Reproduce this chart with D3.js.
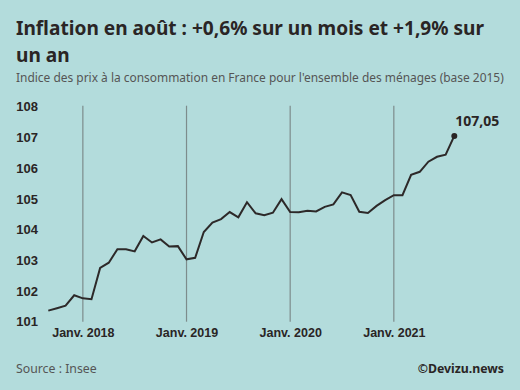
<!DOCTYPE html>
<html>
<head>
<meta charset="utf-8">
<script src="https://cdn.jsdelivr.net/npm/d3@7"></script>
<style>
  html, body { margin: 0; padding: 0; background: #b3dcdc; }
  svg { display: block; }
</style>
</head>
<body>
<div id="chart"></div>
<script>
// months from sept. 2017 to août 2021 (index 0 = sept. 2017)
const months = d3.range(48);
const values = [
  101.36, 101.44, 101.52, 101.86,
  101.76, 101.73, 102.75, 102.92, 103.36, 103.36, 103.29, 103.79, 103.58, 103.68, 103.45, 103.46,
  103.03, 103.08, 103.92, 104.23, 104.34, 104.57, 104.40, 104.89, 104.53, 104.47, 104.55, 104.99,
  104.57, 104.56, 104.61, 104.59, 104.74, 104.82, 105.21, 105.12, 104.58, 104.54, 104.77, 104.96,
  105.12, 105.12, 105.78, 105.88, 106.21, 106.37, 106.44, 107.05
];
const yTicks = [101, 102, 103, 104, 105, 106, 107, 108];
const janIndex = [4, 16, 28, 40];
const janLabels = ["Janv. 2018", "Janv. 2019", "Janv. 2020", "Janv. 2021"];
const lastLabel = "107,05";

const W = 520, H = 390;
const sans = "'Noto Sans', 'Open Sans', sans-serif";

const svg = d3.select("#chart").append("svg")
  .attr("width", W)
  .attr("height", H)
  .style("background", "#b3dcdc");

// title + subtitle
const title = svg.append("text")
  .attr("x", 16)
  .attr("font-family", sans)
  .attr("font-weight", 700)
  .attr("font-size", 19.1)
  .attr("fill", "#2a2525");
title.append("tspan").attr("x", 16).attr("y", 35).text("Inflation en août : +0,6% sur un mois et +1,9% sur");
title.append("tspan").attr("x", 16).attr("y", 62).text("un an");

svg.append("text")
  .attr("x", 16).attr("y", 82)
  .attr("font-family", sans)
  .attr("font-size", 11.95)
  .attr("fill", "#555")
  .text("Indice des prix à la consommation en France pour l'ensemble des ménages (base 2015)");

// scales
const x = d3.scaleLinear().domain([0, 47]).range([48.3, 454.3]);
const y = d3.scaleLinear().domain([101, 108]).range([321.7, 106.7]);

// vertical january lines
svg.append("g").selectAll("line")
  .data(janIndex)
  .join("line")
  .attr("x1", d => x(d)).attr("x2", d => x(d))
  .attr("y1", y(108) - 1).attr("y2", y(101))
  .attr("stroke", "#7d8c8c")
  .attr("stroke-width", 1.2);

// y axis (labels only)
const axeY = d3.axisLeft(y).tickValues(yTicks).tickFormat(d3.format("d"))
  .tickSize(0).tickPadding(0);
const groupeY = svg.append("g")
  .attr("transform", "translate(38,0)")
  .call(axeY);
groupeY.select(".domain").remove();
groupeY.selectAll("text")
  .attr("font-family", "'Liberation Sans', Arial, sans-serif")
  .attr("font-weight", 700)
  .attr("font-size", 13)
  .attr("fill", "#2a2525");

// x labels
const axeX = d3.axisBottom(x).tickValues(janIndex)
  .tickFormat((d, i) => janLabels[i]).tickSize(0).tickPadding(0);
const groupeX = svg.append("g")
  .attr("transform", "translate(0,328)")
  .call(axeX);
groupeX.select(".domain").remove();
groupeX.selectAll("text")
  .attr("font-family", "'Liberation Sans Narrow', 'Liberation Sans', Arial, sans-serif")
  .attr("font-weight", 700)
  .attr("font-size", 12.5)
  .attr("fill", "#2a2525");

// line
const line = d3.line().x((d, i) => x(months[i])).y(d => y(d));
svg.append("path")
  .datum(values)
  .attr("d", line)
  .attr("fill", "none")
  .attr("stroke", "#2d2929")
  .attr("stroke-width", 2)
  .attr("stroke-linejoin", "miter");

const last = values.length - 1;
svg.append("circle")
  .attr("cx", x(months[last]))
  .attr("cy", y(values[last]))
  .attr("r", 3)
  .attr("fill", "#2a2525");

svg.append("text")
  .attr("x", x(months[last]) + 1)
  .attr("y", y(values[last]) - 10)
  .attr("font-family", sans)
  .attr("font-weight", 700)
  .attr("font-size", 14)
  .attr("fill", "#2a2525")
  .text(lastLabel);

// footer
svg.append("text")
  .attr("x", 16).attr("y", 373)
  .attr("font-family", sans)
  .attr("font-size", 12.3)
  .attr("fill", "#555")
  .text("Source : Insee");

svg.append("text")
  .attr("x", 504).attr("y", 373)
  .attr("text-anchor", "end")
  .attr("font-family", sans)
  .attr("font-weight", 700)
  .attr("font-size", 12.3)
  .attr("fill", "#2a2525")
  .text("©Devizu.news");
</script>
</body>
</html>
